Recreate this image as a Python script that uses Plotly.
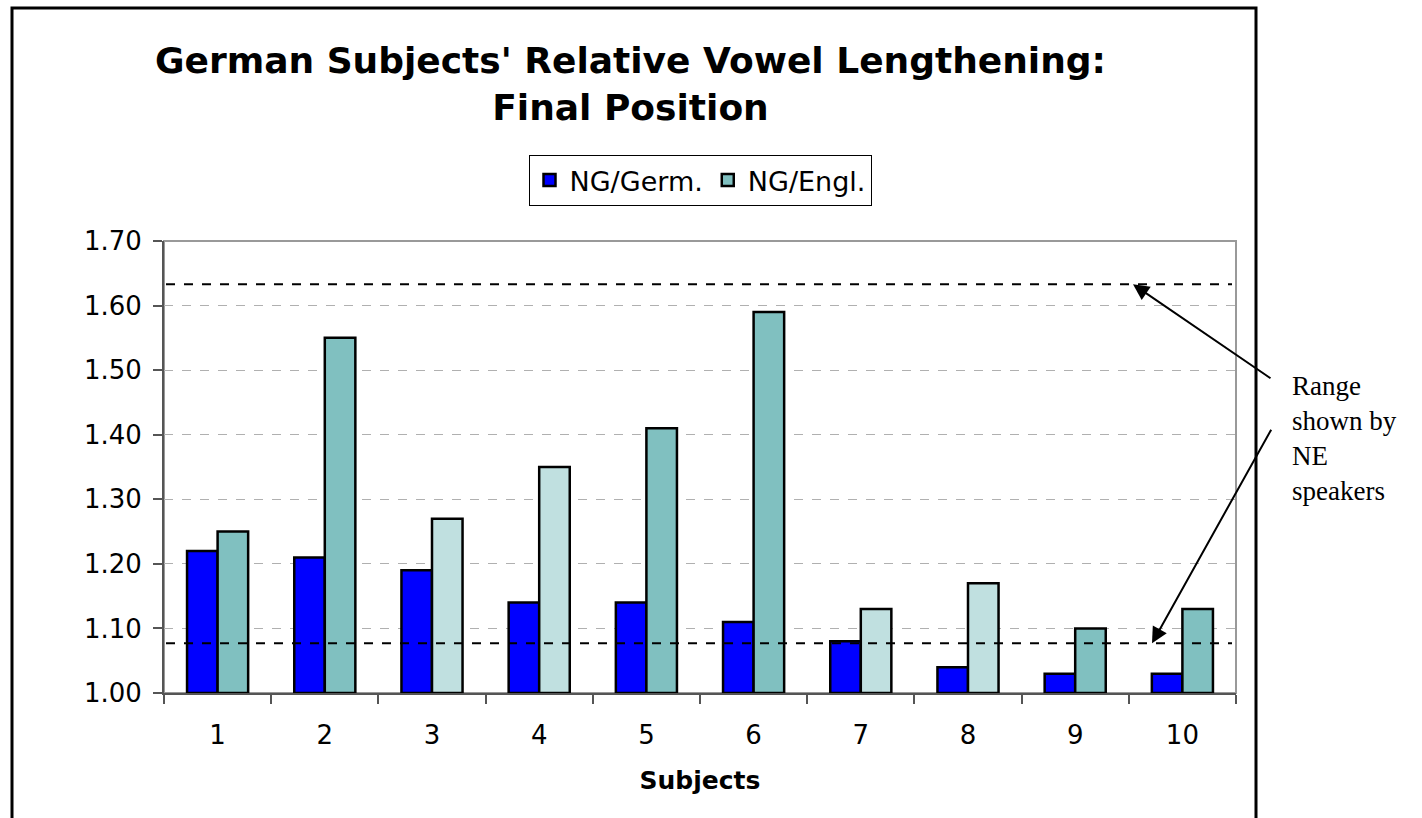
import plotly.graph_objects as go

# Data
subjects = ["1", "2", "3", "4", "5", "6", "7", "8", "9", "10"]
ng_germ = [1.22, 1.21, 1.19, 1.14, 1.14, 1.11, 1.08, 1.04, 1.03, 1.03]
ng_engl = [1.25, 1.55, 1.27, 1.35, 1.41, 1.59, 1.13, 1.17, 1.10, 1.13]
engl_shade = ["dark", "dark", "light", "light", "dark", "dark", "light", "light", "dark", "dark"]
ne_range = [1.077, 1.633]
y_ticks = [1.00, 1.10, 1.20, 1.30, 1.40, 1.50, 1.60, 1.70]

W, H = 1422, 818
L, R, T, B = 164, 1236, 241, 693   # plot area in pixels


def px(x):
    return (x - L) / (R - L)


def py(y):
    return (B - y) / (B - T)


shade_colors = {"dark": "#80C0C0", "light": "#C0E0E0"}

fig = go.Figure()
fig.add_trace(go.Bar(
    x=subjects, y=[v - 1.0 for v in ng_germ], base=1.0, name="NG/Germ.",
    marker=dict(color="#0000FF", line=dict(color="black", width=2.5)),
))
fig.add_trace(go.Bar(
    x=subjects, y=[v - 1.0 for v in ng_engl], base=1.0, name="NG/Engl.",
    marker=dict(color=[shade_colors[s] for s in engl_shade],
                line=dict(color="black", width=2.5)),
))

shapes = []
# outer chart frame
shapes.append(dict(type="rect", xref="paper", yref="paper",
                   x0=px(12), x1=px(1256), y0=py(840), y1=py(8),
                   line=dict(color="black", width=3), layer="below"))
# plot area border (top / right)
shapes.append(dict(type="rect", xref="paper", yref="paper",
                   x0=0, x1=1, y0=0, y1=1,
                   line=dict(color="#999999", width=2), layer="below"))
# NE speaker range lines
for v in ne_range:
    shapes.append(dict(type="line", xref="paper", yref="y",
                       x0=px(166), x1=px(1232), y0=v, y1=v,
                       line=dict(color="black", width=2, dash="dash")))

annotations = [
    dict(text="<b>German Subjects' Relative Vowel Lengthening:<br>Final Position</b>",
         xref="paper", yref="paper", x=px(630), y=py(84),
         xanchor="center", yanchor="middle", showarrow=False, align="center",
         font=dict(family="DejaVu Sans", size=36, color="black")),
    dict(text="Range<br>shown by<br>NE<br>speakers",
         xref="paper", yref="paper", x=px(1290), y=py(369),
         xanchor="left", yanchor="top", showarrow=False, align="left",
         font=dict(family="Liberation Serif", size=27, color="black")),
    dict(text="", xref="paper", yref="y", x=px(1133), y=ne_range[1],
         ax=139, ay=95, showarrow=True, arrowhead=2, arrowsize=1.6,
         arrowwidth=2, arrowcolor="black"),
    dict(text="", xref="paper", yref="y", x=px(1152), y=ne_range[0],
         ax=120, ay=-215, showarrow=True, arrowhead=2, arrowsize=1.6,
         arrowwidth=2, arrowcolor="black"),
]

fig.update_layout(
    width=W, height=H,
    margin=dict(l=L, r=W - R, t=T, b=H - B, pad=0),
    paper_bgcolor="white", plot_bgcolor="white",
    barmode="group", bargap=0.43, bargroupgap=0,
    font=dict(family="DejaVu Sans", size=26, color="black"),
    showlegend=True,
    legend=dict(orientation="h", x=0.5, xanchor="center", y=py(155), yanchor="top",
                bordercolor="black", borderwidth=1, bgcolor="white",
                font=dict(family="DejaVu Sans", size=27, color="black"),
                itemwidth=30, traceorder="normal"),
    shapes=shapes,
    annotations=annotations,
)

fig.update_xaxes(
    type="category", tickson="boundaries", ticks="outside", ticklen=9,
    tickcolor="#555555", tickwidth=1.5,
    showline=True, linecolor="#555555", linewidth=2,
    showgrid=False, tickfont=dict(size=26), ticklabelstandoff=18,
    title=dict(text="<b>Subjects</b>", font=dict(size=25), standoff=22),
)
fig.update_yaxes(
    range=[1.0, 1.7], tickvals=y_ticks, tickformat=".2f",
    ticks="outside", ticklen=9, tickcolor="#555555", tickwidth=1.5,
    showline=True, linecolor="#555555", linewidth=2,
    showgrid=True, gridcolor="#B0B0B0", gridwidth=1, griddash="dash",
    zeroline=False, tickfont=dict(size=26), ticklabelstandoff=6,
)

fig.write_html("out.html")
